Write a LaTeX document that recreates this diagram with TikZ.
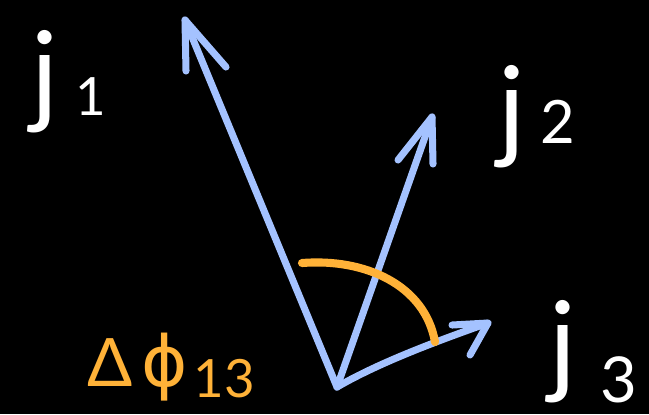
\documentclass[tikz,border=0pt]{standalone}
\usepackage{fontspec}
\setmainfont{Lato}
\newfontfamily\dvs{DejaVu Sans}
\definecolor{vecblue}{RGB}{164,194,255}
\definecolor{angorange}{RGB}{255,178,56}
\begin{document}
\begin{tikzpicture}[x=0.01cm,y=-0.01cm,
  vec/.style={draw=vecblue,line width=2pt,line cap=round,line join=round},
  ang/.style={draw=angorange,line width=2.3pt,line cap=round},
  lab/.style={text=white,inner sep=0pt,anchor=base,font=\fontsize{32}{36}\selectfont},
  sub/.style={text=white,inner sep=0pt,anchor=base},
  olab/.style={text=angorange,inner sep=0pt,anchor=base}]
\fill[black] (0,0) rectangle (649,414);
\useasboundingbox (0,0) rectangle (649,414);
\coordinate (O) at (337,387);
\coordinate (T1) at (185,20);
\coordinate (T1a) at (186,71);
\coordinate (T1b) at (226,67);
\coordinate (T2) at (432,117);
\coordinate (T2a) at (398,160);
\coordinate (T2b) at (433,164);
\coordinate (T3) at (488,323);
\coordinate (T3a) at (452,325);
\coordinate (T3b) at (470,355);
\draw[vec] (O) -- (T1);
\draw[vec] (T1a) -- (T1) -- (T1b);
\draw[vec] (O) -- (T2);
\draw[vec] (T2a) -- (T2) -- (T2b);
\draw[vec] (O) .. controls (380,362) and (440,340) .. (T3);
\draw[vec] (T3a) -- (T3) -- (T3b);
\coordinate (A0) at (302,263);
\coordinate (A1) at (435,342);
\draw[ang] (A0) .. controls (365,258) and (425,285) .. (A1);
\node[lab] (j1) at (45,112) {j};
\node[sub,font=\fontsize{15}{18}\selectfont] (n1) at (91,115) {1};
\node[lab] (j2) at (512,147) {j};
\node[sub,font=\fontsize{17}{20}\selectfont] (n2) at (558,143) {2};
\node[lab] (j3) at (563,382) {j};
\node[sub,font=\fontsize{18}{21}\selectfont] (n3) at (619,402) {3};
\node[olab,font=\fontsize{19}{22}\selectfont] (dl) at (110,386) {Δ};
\node[olab,font=\dvs\fontsize{20}{24}\selectfont] (ph) at (165,386) {ϕ};
\node[olab,font=\fontsize{15}{18}\selectfont] (n13) at (224,397) {13};
\end{tikzpicture}
\end{document}
